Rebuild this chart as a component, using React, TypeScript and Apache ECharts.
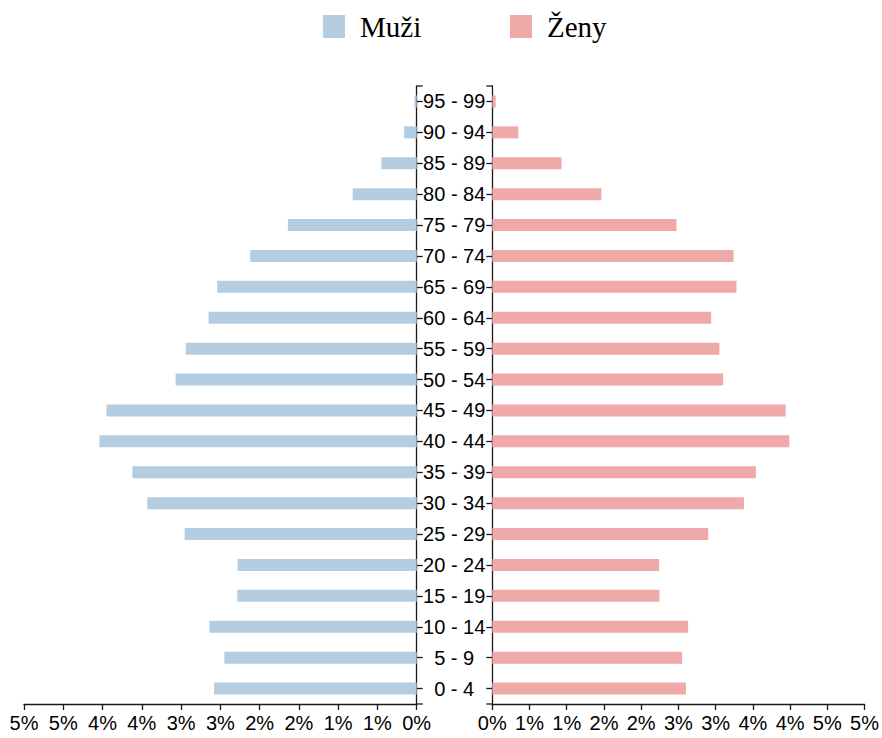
import React, { useEffect, useRef } from "react";
import * as echarts from "echarts";

const categories = [
  "0 - 4", "5 - 9", "10 - 14", "15 - 19", "20 - 24", "25 - 29", "30 - 34", "35 - 39",
  "40 - 44", "45 - 49", "50 - 54", "55 - 59", "60 - 64", "65 - 69", "70 - 74", "75 - 79",
  "80 - 84", "85 - 89", "90 - 94", "95 - 99",
];
const muzi = [
  2.58, 2.45, 2.64, 2.285, 2.28, 2.955, 3.43, 3.62, 4.04, 3.95,
  3.07, 2.94, 2.65, 2.54, 2.12, 1.64, 0.815, 0.45, 0.16, 0.03,
];
const zeny = [
  2.6, 2.55, 2.63, 2.245, 2.24, 2.9, 3.38, 3.54, 3.99, 3.94,
  3.1, 3.05, 2.94, 3.28, 3.24, 2.475, 1.465, 0.93, 0.35, 0.045,
];
const seriesNames = ["Muži", "Ženy"];
const axisMax = 5;
const axisStep = 0.5;

const BLUE = "#b5cde1";
const PINK = "#efa9a9";
const AXIS = "#1a1a1a";

const TOP = 86;
const HEIGHT = 618;
const L_LEFT = 24;
const L_WIDTH = 392.7;
const R_LEFT = 492.3;
const R_WIDTH = 374.4;

export default function App() {
  const ref = useRef<HTMLDivElement>(null);
  useEffect(() => {
    if (!ref.current) return;
    const chart = echarts.init(ref.current, null, { renderer: "svg" });
    const fmt = (v: number) => Math.round(v) + "%";
    const xCommon = {
      type: "value" as const,
      min: 0,
      max: axisMax,
      interval: axisStep,
      position: "bottom" as const,
      splitLine: { show: false },
      axisLine: { show: true, lineStyle: { color: AXIS, width: 1.3 } },
      axisTick: { show: true, length: 6, lineStyle: { color: AXIS, width: 1.3 } },
      axisLabel: {
        formatter: fmt,
        fontSize: 20,
        fontFamily: "Liberation Sans, Arial, sans-serif",
        color: "#000",
        margin: 9,
      },
    };
    const lineStyle = { stroke: AXIS, lineWidth: 1.3 };
    chart.setOption({
      animation: false,
      backgroundColor: "#fff",
      legend: [
        {
          data: [seriesNames[0]],
          left: 323,
          top: 12,
          padding: 0,
          icon: "rect",
          itemWidth: 22,
          itemHeight: 23,
          textStyle: {
            fontFamily: "Liberation Serif, Times New Roman, serif",
            fontSize: 29,
            color: "#000",
            padding: [0, 0, 0, 10],
          },
        },
        {
          data: [seriesNames[1]],
          left: 510,
          top: 12,
          padding: 0,
          icon: "rect",
          itemWidth: 22,
          itemHeight: 23,
          textStyle: {
            fontFamily: "Liberation Serif, Times New Roman, serif",
            fontSize: 29,
            color: "#000",
            padding: [0, 0, 0, 10],
          },
        },
      ],
      grid: [
        { left: L_LEFT, top: TOP, width: L_WIDTH, height: HEIGHT },
        { left: R_LEFT, top: TOP, width: R_WIDTH, height: HEIGHT },
      ],
      xAxis: [
        { ...xCommon, gridIndex: 0, inverse: true },
        { ...xCommon, gridIndex: 1 },
      ],
      yAxis: [
        {
          type: "category",
          gridIndex: 0,
          data: categories,
          position: "right",
          axisLine: { show: true, lineStyle: { color: AXIS, width: 1.3 } },
          axisTick: { show: true, alignWithLabel: true, length: 6, lineStyle: { color: AXIS, width: 1.3 } },
          axisLabel: {
            show: true,
            align: "center",
            margin: 37.5,
            fontSize: 20,
            fontFamily: "Liberation Sans, Arial, sans-serif",
            color: "#000",
          },
        },
        {
          type: "category",
          gridIndex: 1,
          data: categories,
          position: "left",
          axisLine: { show: true, lineStyle: { color: AXIS, width: 1.3 } },
          axisTick: { show: true, alignWithLabel: true, length: 6, lineStyle: { color: AXIS, width: 1.3 } },
          axisLabel: { show: false },
        },
      ],
      series: [
        {
          name: seriesNames[0],
          type: "bar",
          xAxisIndex: 0,
          yAxisIndex: 0,
          data: muzi,
          barWidth: 12,
          itemStyle: { color: BLUE },
        },
        {
          name: seriesNames[1],
          type: "bar",
          xAxisIndex: 1,
          yAxisIndex: 1,
          data: zeny,
          barWidth: 12,
          itemStyle: { color: PINK },
        },
      ],
      graphic: [
        { type: "line", shape: { x1: L_LEFT + L_WIDTH, y1: TOP, x2: L_LEFT + L_WIDTH + 6, y2: TOP }, style: lineStyle },
        { type: "line", shape: { x1: L_LEFT + L_WIDTH, y1: TOP + HEIGHT, x2: L_LEFT + L_WIDTH + 6, y2: TOP + HEIGHT }, style: lineStyle },
        { type: "line", shape: { x1: R_LEFT - 6, y1: TOP, x2: R_LEFT, y2: TOP }, style: lineStyle },
        { type: "line", shape: { x1: R_LEFT - 6, y1: TOP + HEIGHT, x2: R_LEFT, y2: TOP + HEIGHT }, style: lineStyle },
      ],
    });
    return () => chart.dispose();
  }, []);
  return (
    <div
      ref={ref}
      style={{ position: "fixed", left: 0, top: 0, width: 882, height: 738 }}
    />
  );
}
